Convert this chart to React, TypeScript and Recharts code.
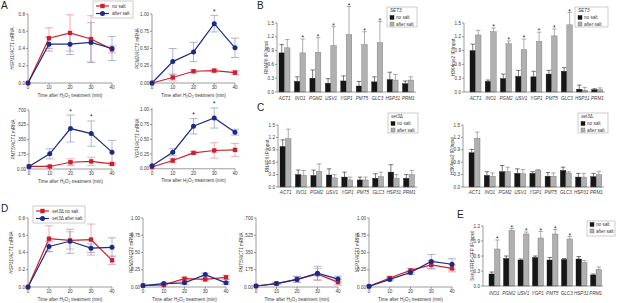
import React from 'react';
import { LineChart, Line, XAxis, YAxis, ErrorBar, BarChart, Bar } from 'recharts';

const FONT = '"Liberation Sans", Arial, Helvetica, sans-serif';
const RED = '#cc2030';
const RED_ERR = '#e58a93';
const BLUE = '#1d2b86';
const BLUE_ERR = '#8a95cc';
const AXIS = '#5a5a5a';
const TXT = '#3a3a3a';
const BLACK_BAR = '#161616';
const GRAY_BAR = '#b0b0b0';
const FS = 4.6;

// time course, minutes after H2O2
const timePoints = [0, 10, 20, 30, 40];

// A: wild type
const hsp31NoSalt = [0, 0.52, 0.58, 0.51, 0.39];
const hsp31NoSaltErr = [0, 0.12, 0.21, 0.27, 0.04];
const hsp31AfterSalt = [0, 0.45, 0.45, 0.47, 0.4];
const hsp31AfterSaltErr = [0, 0.08, 0.12, 0.23, 0.14];
const pgm2NoSalt = [0, 0.08, 0.17, 0.18, 0.15];
const pgm2NoSaltErr = [0, 0.05, 0.02, 0.02, 0.03];
const pgm2AfterSalt = [0, 0.31, 0.45, 0.86, 0.51];
const pgm2AfterSaltErr = [0, 0.19, 0.14, 0.12, 0.14];
const pmt5NoSalt = [0.03, 0.03, 0.08, 0.09, 0.06];
const pmt5NoSaltErr = [0, 0.01, 0.04, 0.05, 0.015];
const pmt5AfterSalt = [0.03, 0.18, 0.48, 0.42, 0.2];
const pmt5AfterSaltErr = [0, 0.06, 0.16, 0.15, 0.14];
const ygp1NoSalt = [0.03, 0.14, 0.27, 0.31, 0.32];
const ygp1NoSaltErr = [0, 0.04, 0.02, 0.13, 0.11];
const ygp1AfterSalt = [0.05, 0.28, 0.72, 0.86, 0.62];
const ygp1AfterSaltErr = [0, 0.06, 0.13, 0.17, 0.05];

// D: set3 deletion
const dHsp31NoSalt = [0, 0.56, 0.54, 0.55, 0.31];
const dHsp31NoSaltErr = [0, 0.15, 0.1, 0.18, 0.05];
const dHsp31AfterSalt = [0, 0.47, 0.53, 0.45, 0.46];
const dHsp31AfterSaltErr = [0, 0.06, 0.14, 0.05, 0.11];
const dPgm2NoSalt = [0.02, 0.03, 0.12, 0.11, 0.14];
const dPgm2NoSaltErr = [0, 0.01, 0.02, 0.02, 0.03];
const dPgm2AfterSalt = [0.02, 0.05, 0.06, 0.18, 0.06];
const dPgm2AfterSaltErr = [0, 0.01, 0.02, 0.02, 0.02];
const dPmt5NoSalt = [0.01, 0.035, 0.08, 0.13, 0.05];
const dPmt5NoSaltErr = [0, 0.01, 0.03, 0.06, 0.03];
const dPmt5AfterSalt = [0.01, 0.035, 0.075, 0.14, 0.08];
const dPmt5AfterSaltErr = [0, 0.01, 0.03, 0.07, 0.03];
const dYgp1NoSalt = [0.01, 0.13, 0.24, 0.32, 0.27];
const dYgp1NoSaltErr = [0, 0.02, 0.03, 0.06, 0.05];
const dYgp1AfterSalt = [0.01, 0.11, 0.21, 0.37, 0.33];
const dYgp1AfterSaltErr = [0, 0.02, 0.03, 0.1, 0.08];

// B, C, E: ChIP
const genes = ['ACT1', 'INO1', 'PGM2', 'USV1', 'YGP1', 'PMT5', 'GLC3', 'HSP31', 'PRM1'];
const eGenes = ['INO1', 'PGM2', 'USV1', 'YGP1', 'PMT5', 'GLC3', 'HSP31', 'PRM1'];

const polNoSalt = [0.85, 0.23, 0.3, 0.19, 0.24, 0.13, 0.22, 0.27, 0.18];
const polNoSaltErr = [0.18, 0.1, 0.18, 0.1, 0.11, 0.1, 0.11, 0.16, 0.06];
const polAfterSalt = [0.96, 0.85, 0.86, 1.01, 1.25, 1.03, 1.07, 0.26, 0.26];
const polAfterSaltErr = [0.18, 0.3, 0.32, 0.41, 0.61, 0.28, 0.46, 0.12, 0.07];
const polStars = [false, true, true, true, true, true, true, false, false];

const k4NoSalt = [0.9, 0.23, 0.29, 0.34, 0.33, 0.39, 0.45, 0.06, 0.05];
const k4NoSaltErr = [0.14, 0.03, 0.1, 0.13, 0.12, 0.08, 0.08, 0.09, 0.02];
const k4AfterSalt = [1.24, 1.31, 1.05, 0.92, 1.1, 1.22, 1.46, 0.04, 0.05];
const k4AfterSaltErr = [0.1, 0.08, 0.06, 0.23, 0.2, 0.15, 0.27, 0.06, 0.04];
const k4Stars = [false, true, true, true, true, true, true, false, false];

const dPolNoSalt = [0.98, 0.3, 0.28, 0.29, 0.24, 0.17, 0.21, 0.36, 0.21];
const dPolNoSaltErr = [0.16, 0.11, 0.13, 0.15, 0.12, 0.07, 0.11, 0.18, 0.09];
const dPolAfterSalt = [1.17, 0.28, 0.38, 0.22, 0.17, 0.17, 0.25, 0.21, 0.3];
const dPolAfterSaltErr = [0.23, 0.12, 0.18, 0.08, 0.07, 0.07, 0.11, 0.09, 0.1];

const dK4NoSalt = [0.83, 0.28, 0.37, 0.33, 0.33, 0.26, 0.4, 0.24, 0.25];
const dK4NoSaltErr = [0.08, 0.09, 0.15, 0.11, 0.04, 0.09, 0.08, 0.09, 0.08];
const dK4AfterSalt = [1.18, 0.26, 0.37, 0.32, 0.4, 0.26, 0.34, 0.24, 0.3];
const dK4AfterSaltErr = [0.15, 0.08, 0.11, 0.1, 0.02, 0.08, 0.03, 0.09, 0.08];

const noStars = genes.map(() => false);

const sen3NoSalt = [0.24, 0.55, 0.52, 0.57, 0.52, 0.53, 0.54, 0.22];
const sen3NoSaltErr = [0.04, 0.05, 0.02, 0.03, 0.05, 0.02, 0.05, 0.02];
const sen3AfterSalt = [0.74, 1.11, 1.04, 0.96, 1.04, 0.94, 0.47, 0.33];
const sen3AfterSaltErr = [0.18, 0.04, 0.04, 0.13, 0.09, 0.05, 0.04, 0.05];
const sen3Stars = [true, true, true, true, true, true, false, false];

const ticks08 = [0, 0.2, 0.4, 0.6, 0.8];
const ticks10 = [0, 0.25, 0.5, 0.75, 1];
const ticks07 = [0, 0.175, 0.35, 0.525, 0.7];
const ticks15 = [0, 0.3, 0.6, 0.9, 1.2, 1.5];
const ticks12 = [0, 0.3, 0.6, 0.9, 1.2];

const legendSalt = ['no salt', 'after salt'];

const fmt1 = (v: number) => v.toFixed(1);
const fmt2 = (v: number) => v.toFixed(2);
const fmtDot = (v: number) => (v === 0 ? '0.00' : v.toFixed(3).replace(/^0/, ''));

const timeTitle = (props: any) => {
  const vb = props.viewBox || {};
  const cx = vb.x + vb.width / 2;
  const y = vb.y + 13.5;
  return (
    <text x={cx} y={y} textAnchor="middle" fontSize={FS} fill={TXT}>
      Time after H<tspan fontSize={3.3} dy={1}>2</tspan><tspan dy={-1}>O</tspan><tspan fontSize={3.3} dy={1}>2</tspan><tspan dy={-1}> treatment (min)</tspan>
    </text>
  );
};

const yTitle = (dx: number, italic: string, plain: string) => (props: any) => {
  const vb = props.viewBox || {};
  const x = vb.x + vb.width + dx;
  const cy = vb.y + vb.height / 2;
  return (
    <text x={x} y={cy} transform={`rotate(-90 ${x} ${cy})`} textAnchor="middle" dominantBaseline="central" fontSize={FS} fill={TXT}>
      {italic ? <tspan fontStyle="italic">{italic}</tspan> : null}
      <tspan>{plain}</tspan>
    </text>
  );
};

const bad = (p: any) => p.cy == null || isNaN(p.cy);
const squareDot = (p: any) =>
  bad(p) ? <g key={`sq-${p.index}`} /> : <rect key={`sq-${p.index}`} x={p.cx - 2.2} y={p.cy - 2.2} width={4.4} height={4.4} fill={RED} />;
const circleDot = (p: any) =>
  bad(p) ? <g key={`ci-${p.index}`} /> : <circle key={`ci-${p.index}`} cx={p.cx} cy={p.cy} r={2.5} fill={BLUE} />;
const starDot = (p: any) =>
  bad(p) ? <g key={`st-${p.index}`} /> : (
    <text key={`st-${p.index}`} x={p.cx} y={p.cy - 1.5} textAnchor="middle" fontSize={6.5} fill="#222">*</text>
  );

type LinePanelProps = {
  id: string;
  x: number; y: number; w: number; h: number; titleX: number;
  yMax: number; yTicks: number[]; fmt: (v: number) => string; gene: string;
  noSalt: number[]; noSaltErr: number[]; afterSalt: number[]; afterSaltErr: number[];
  starAt: number[];
};

const YW = 34, MT = 12, MR = 8, XH = 20;

const LinePanel: React.FC<LinePanelProps> = (p) => {
  const rows = timePoints.map((t, i) => ({
    t,
    ns: p.noSalt[i],
    nsErr: p.noSaltErr[i],
    as: p.afterSalt[i],
    asErr: p.afterSaltErr[i],
    star: p.starAt.includes(t) ? p.afterSalt[i] + p.afterSaltErr[i] : null,
  }));
  // recharts stretches the domain to fit error bars, so grow the plot to keep the ticks in place
  const top = Math.max(
    p.yMax,
    ...p.noSalt.map((v, i) => v + p.noSaltErr[i]),
    ...p.afterSalt.map((v, i) => v + p.afterSaltErr[i]),
  );
  const plotH = (p.h * top) / p.yMax;
  const plotTop = p.y - (plotH - p.h);
  return (
    <div style={{ position: 'absolute', left: p.x - YW, top: plotTop - MT }}>
      <LineChart width={YW + p.w + MR} height={MT + plotH + XH} data={rows} margin={{ top: MT, right: MR, bottom: 0, left: 0 }}>
        <XAxis type="number" dataKey="t" domain={[0, 40]} ticks={timePoints} interval={0} height={XH}
          stroke={AXIS} strokeWidth={0.6} tickSize={2} tickMargin={1} tick={{ fontSize: FS, fill: TXT }} label={timeTitle} />
        <YAxis type="number" domain={[0, top]} ticks={p.yTicks} interval={0} width={YW}
          stroke={AXIS} strokeWidth={0.6} tickSize={2} tickMargin={1} tick={{ fontSize: FS, fill: TXT }}
          tickFormatter={p.fmt} label={yTitle(p.titleX - p.x, p.gene, ' mRNA')} />
        <Line dataKey="ns" stroke={RED} strokeWidth={1.2} dot={squareDot} activeDot={false} isAnimationActive={false}>
          <ErrorBar dataKey="nsErr" width={4} stroke={RED_ERR} strokeWidth={0.7} direction="y" />
        </Line>
        <Line dataKey="as" stroke={BLUE} strokeWidth={1.2} dot={circleDot} activeDot={false} isAnimationActive={false}>
          <ErrorBar dataKey="asErr" width={4} stroke={BLUE_ERR} strokeWidth={0.7} direction="y" />
        </Line>
        <Line dataKey="star" stroke="none" dot={starDot} activeDot={false} isAnimationActive={false} />
      </LineChart>
    </div>
  );
};

const linePanels: LinePanelProps[] = [
  { id: 'a1', x: 28, y: 14, w: 84, h: 69, titleX: 12, yMax: 0.8, yTicks: ticks08, fmt: fmt1, gene: 'HSP31/ACT1',
    noSalt: hsp31NoSalt, noSaltErr: hsp31NoSaltErr, afterSalt: hsp31AfterSalt, afterSaltErr: hsp31AfterSaltErr, starAt: [] },
  { id: 'a2', x: 152, y: 14, w: 83, h: 69, titleX: 137, yMax: 1, yTicks: ticks10, fmt: fmt2, gene: 'PGM2/ACT1',
    noSalt: pgm2NoSalt, noSaltErr: pgm2NoSaltErr, afterSalt: pgm2AfterSalt, afterSaltErr: pgm2AfterSaltErr, starAt: [30] },
  { id: 'a3', x: 29, y: 110, w: 83, h: 59, titleX: 13, yMax: 0.7, yTicks: ticks07, fmt: fmtDot, gene: 'PMT5/ACT1',
    noSalt: pmt5NoSalt, noSaltErr: pmt5NoSaltErr, afterSalt: pmt5AfterSalt, afterSaltErr: pmt5AfterSaltErr, starAt: [20, 30] },
  { id: 'a4', x: 152, y: 110, w: 83, h: 59, titleX: 137, yMax: 1, yTicks: ticks10, fmt: fmt2, gene: 'YGP1/ACT1',
    noSalt: ygp1NoSalt, noSaltErr: ygp1NoSaltErr, afterSalt: ygp1AfterSalt, afterSaltErr: ygp1AfterSaltErr, starAt: [20, 30] },
  { id: 'd1', x: 28, y: 218, w: 84, h: 69, titleX: 11, yMax: 0.8, yTicks: ticks08, fmt: fmt1, gene: 'HSP31/ACT1',
    noSalt: dHsp31NoSalt, noSaltErr: dHsp31NoSaltErr, afterSalt: dHsp31AfterSalt, afterSaltErr: dHsp31AfterSaltErr, starAt: [] },
  { id: 'd2', x: 143, y: 218, w: 83, h: 69, titleX: 131, yMax: 1, yTicks: ticks10, fmt: fmt2, gene: 'PGM2/ACT1',
    noSalt: dPgm2NoSalt, noSaltErr: dPgm2NoSaltErr, afterSalt: dPgm2AfterSalt, afterSaltErr: dPgm2AfterSaltErr, starAt: [] },
  { id: 'd3', x: 256, y: 218, w: 82, h: 69, titleX: 241, yMax: 0.7, yTicks: ticks07, fmt: fmtDot, gene: 'PMT5/ACT1',
    noSalt: dPmt5NoSalt, noSaltErr: dPmt5NoSaltErr, afterSalt: dPmt5AfterSalt, afterSaltErr: dPmt5AfterSaltErr, starAt: [] },
  { id: 'd4', x: 369, y: 218, w: 83, h: 69, titleX: 357, yMax: 1, yTicks: ticks10, fmt: fmt2, gene: 'YGP1/ACT1',
    noSalt: dYgp1NoSalt, noSaltErr: dYgp1NoSaltErr, afterSalt: dYgp1AfterSalt, afterSaltErr: dYgp1AfterSaltErr, starAt: [] },
];

// bar with its own one-sided error bar (and star), sized from the bar's own scale
const barShape = (fill: string, stroke: string, errColor: string, key: 'ns' | 'as', errKey: 'nsErr' | 'asErr') => (props: any) => {
  const { x, y, width, height, payload } = props;
  const v = payload[key];
  const err = payload[errKey];
  const top = y - (err * height) / v;
  const cx = x + width / 2;
  return (
    <g>
      <rect x={x} y={y} width={width} height={height} fill={fill} stroke={stroke} strokeWidth={0.4} />
      <line x1={cx} y1={y} x2={cx} y2={top} stroke={errColor} strokeWidth={0.6} />
      <line x1={cx - 2.2} y1={top} x2={cx + 2.2} y2={top} stroke={errColor} strokeWidth={0.6} />
      {key === 'as' && payload.star ? (
        <text x={cx} y={top + 1.2} textAnchor="middle" fontSize={6.5} fill="#222">*</text>
      ) : null}
    </g>
  );
};

const geneTick = (dy: number) => (props: any) => (
  <text x={props.x} y={props.y + dy} textAnchor="middle" fontSize={FS} fontStyle="italic" fill={TXT}>
    {props.payload.value}
  </text>
);

type BarPanelProps = {
  id: string;
  x: number; y: number; w: number; h: number; titleX: number; padLeft: number; labelDy: number;
  yMax: number; yTicks: number[]; title: string; genes: string[];
  noSalt: number[]; noSaltErr: number[]; afterSalt: number[]; afterSaltErr: number[]; starred: boolean[];
};

const BW = 5.5, BYW = 26, BMT = 24, BMR = 4, BXH = 12;

const BarPanel: React.FC<BarPanelProps> = (p) => {
  const rows = p.genes.map((g, i) => ({
    g,
    ns: p.noSalt[i],
    nsErr: p.noSaltErr[i],
    as: p.afterSalt[i],
    asErr: p.afterSaltErr[i],
    star: p.starred[i],
  }));
  return (
    <div style={{ position: 'absolute', left: p.x - BYW, top: p.y - BMT }}>
      <BarChart width={BYW + p.w + BMR} height={BMT + p.h + BXH} data={rows} barGap={0}
        margin={{ top: BMT, right: BMR, bottom: 0, left: 0 }}>
        <XAxis dataKey="g" type="category" height={BXH} padding={{ left: p.padLeft, right: 0 }} interval={0}
          stroke={AXIS} strokeWidth={0.6} tickLine={false} tickSize={0} tickMargin={0} tick={geneTick(p.labelDy)} />
        <YAxis type="number" domain={[0, p.yMax]} ticks={p.yTicks} interval={0} width={BYW}
          stroke={AXIS} strokeWidth={0.6} tickSize={2} tickMargin={1} tick={{ fontSize: FS, fill: TXT }}
          tickFormatter={fmt1} label={yTitle(p.titleX - p.x, '', p.title)} />
        <Bar dataKey="ns" barSize={BW} isAnimationActive={false} shape={barShape(BLACK_BAR, BLACK_BAR, '#222', 'ns', 'nsErr')} />
        <Bar dataKey="as" barSize={BW} isAnimationActive={false} shape={barShape(GRAY_BAR, '#6f6f6f', '#777', 'as', 'asErr')} />
      </BarChart>
    </div>
  );
};

const barPanels: BarPanelProps[] = [
  { id: 'b1', x: 277, y: 23, w: 139, h: 69, titleX: 266, padLeft: 0, labelDy: 8, yMax: 1.5, yTicks: ticks15,
    title: 'RNAPII IP/Input', genes, noSalt: polNoSalt, noSaltErr: polNoSaltErr, afterSalt: polAfterSalt,
    afterSaltErr: polAfterSaltErr, starred: polStars },
  { id: 'b2', x: 464, y: 23, w: 141, h: 69, titleX: 453, padLeft: 4, labelDy: 8, yMax: 1.5, yTicks: ticks15,
    title: 'H3K4me2 IP/Input', genes, noSalt: k4NoSalt, noSaltErr: k4NoSaltErr, afterSalt: k4AfterSalt,
    afterSaltErr: k4AfterSaltErr, starred: k4Stars },
  { id: 'c1', x: 278, y: 125, w: 139, h: 62, titleX: 267, padLeft: 0, labelDy: 7, yMax: 1.5, yTicks: ticks15,
    title: 'RNAPII IP/Input', genes, noSalt: dPolNoSalt, noSaltErr: dPolNoSaltErr, afterSalt: dPolAfterSalt,
    afterSaltErr: dPolAfterSaltErr, starred: noStars },
  { id: 'c2', x: 463, y: 125, w: 141, h: 62, titleX: 452, padLeft: 4, labelDy: 7, yMax: 1.5, yTicks: ticks15,
    title: 'H3K4me2 IP/Input', genes, noSalt: dK4NoSalt, noSaltErr: dK4NoSaltErr, afterSalt: dK4AfterSalt,
    afterSaltErr: dK4AfterSaltErr, starred: noStars },
  { id: 'e', x: 483, y: 226, w: 120, h: 60, titleX: 472, padLeft: 4, labelDy: 9, yMax: 1.2, yTicks: ticks12,
    title: 'Sen3-FRB-GFP IP/Input', genes: eGenes, noSalt: sen3NoSalt, noSaltErr: sen3NoSaltErr,
    afterSalt: sen3AfterSalt, afterSaltErr: sen3AfterSaltErr, starred: sen3Stars },
];

const LineLegend = ({ x, y, w, mutant }: { x: number; y: number; w: number; mutant: boolean }) => (
  <g>
    <rect x={x} y={y} width={w} height={17} fill="#fff" stroke="#9a9a9a" strokeWidth={0.5} />
    {legendSalt.map((label, i) => {
      const ry = y + 5 + i * 7.5;
      const color = i === 0 ? RED : BLUE;
      return (
        <g key={label}>
          <line x1={x + 3} x2={x + 16} y1={ry} y2={ry} stroke={color} strokeWidth={1.2} />
          {i === 0 ? (
            <rect x={x + 7.3} y={ry - 2.2} width={4.4} height={4.4} fill={color} />
          ) : (
            <circle cx={x + 9.5} cy={ry} r={2.5} fill={color} />
          )}
          <text x={x + 19} y={ry + 1.6} fontSize={FS} fill={TXT}>
            {mutant ? <tspan fontStyle="italic">set3</tspan> : null}
            {mutant ? `Δ ${label}` : label}
          </text>
        </g>
      );
    })}
  </g>
);

const BarLegend = ({ x, y, w, title }: { x: number; y: number; w: number; title: React.ReactNode }) => {
  const t = title ? 7 : 0;
  const h = title ? 20 : 15;
  return (
    <g>
      <rect x={x} y={y} width={w} height={h} fill="#fff" stroke="#9a9a9a" strokeWidth={0.5} />
      {title ? (
        <text x={x + 3} y={y + 5} fontSize={FS} fill={TXT}>{title}</text>
      ) : null}
      {legendSalt.map((label, i) => {
        const ry = y + t + 1.5 + i * 6.5;
        return (
          <g key={label}>
            <rect x={x + 3} y={ry} width={4} height={4} fill={i === 0 ? BLACK_BAR : GRAY_BAR}
              stroke={i === 0 ? BLACK_BAR : '#6f6f6f'} strokeWidth={0.4} />
            <text x={x + 9} y={ry + 3.6} fontSize={FS} fill={TXT}>{label}</text>
          </g>
        );
      })}
    </g>
  );
};

const letterStyle = { fontSize: 10, fill: '#222' };

const Overlay = () => (
  <svg width={617} height={303} style={{ position: 'absolute', left: 0, top: 0, pointerEvents: 'none' }} fontFamily={FONT}>
    <text x={1} y={9} {...letterStyle}>A</text>
    <text x={257} y={9} {...letterStyle}>B</text>
    <text x={257} y={111} {...letterStyle}>C</text>
    <text x={1} y={212} {...letterStyle}>D</text>
    <text x={457} y={218} {...letterStyle}>E</text>
    <LineLegend x={93} y={1} w={40} mutant={false} />
    <LineLegend x={33} y={206} w={52} mutant />
    <BarLegend x={387} y={7} w={30} title={<tspan fontStyle="italic">SET3</tspan>} />
    <BarLegend x={575} y={7} w={33} title={<tspan fontStyle="italic">SET3</tspan>} />
    <BarLegend x={388} y={113} w={30} title={<><tspan fontStyle="italic">set3</tspan>Δ</>} />
    <BarLegend x={578} y={113} w={30} title={<><tspan fontStyle="italic">set3</tspan>Δ</>} />
    <BarLegend x={587} y={221} w={28} title={null} />
  </svg>
);

const App: React.FC = () => (
  <div style={{ position: 'fixed', left: 0, top: 0, width: 617, height: 303, background: '#fff', overflow: 'hidden', fontFamily: FONT }}>
    {linePanels.map((p) => (
      <LinePanel key={p.id} {...p} />
    ))}
    {barPanels.map((p) => (
      <BarPanel key={p.id} {...p} />
    ))}
    <Overlay />
  </div>
);

export default App;
